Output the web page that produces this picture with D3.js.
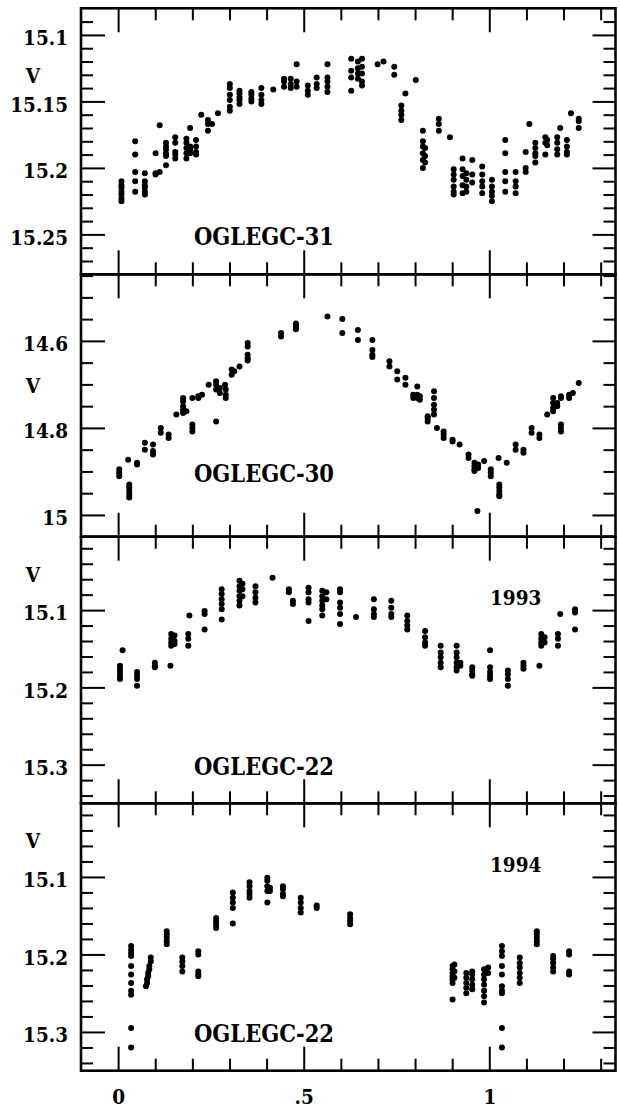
<!DOCTYPE html>
<html>
<head>
<meta charset="utf-8">
<script src="https://cdn.jsdelivr.net/npm/d3@7"></script>
<style>
  html, body { margin: 0; padding: 0; background: #fff; }
  svg text { font-family: "DejaVu Serif Condensed", "DejaVu Serif", serif; font-weight: bold; fill: #000; }
</style>
</head>
<body>
<svg id="chart" width="620" height="1110"></svg>
<script>
// ---------------- DATA (phase, [V magnitudes at that phase]) ----------------
const gc31 = [
  [0.009,[15.210,15.213,15.215,15.218,15.220,15.223,15.225]],
  [0.046,[15.180,15.190,15.203,15.210,15.218]],
  [0.072,[15.204,15.210,15.213,15.215,15.218,15.220]],
  [0.101,[15.189,15.204,15.205]],
  [0.112,[15.168,15.203]],
  [0.129,[15.181,15.184,15.186,15.189,15.191,15.198]],
  [0.154,[15.177,15.181,15.188,15.190,15.193]],
  [0.184,[15.178,15.181,15.185,15.189,15.193]],
  [0.194,[15.170,15.184,15.186,15.189]],
  [0.210,[15.179,15.184,15.188,15.190]],
  [0.224,[15.160]],
  [0.242,[15.164,15.167,15.172]],
  [0.253,[15.167]],
  [0.269,[15.159]],
  [0.301,[15.137,15.140,15.145,15.149,15.154,15.157]],
  [0.327,[15.142,15.144,15.147,15.149,15.152]],
  [0.359,[15.143,15.145,15.148,15.150]],
  [0.386,[15.140,15.145,15.149,15.152]],
  [0.418,[15.141]],
  [0.447,[15.133,15.135,15.139]],
  [0.465,[15.133,15.137,15.140]],
  [0.481,[15.122,15.135,15.139]],
  [0.511,[15.138,15.142,15.145]],
  [0.535,[15.132,15.137,15.140]],
  [0.564,[15.122,15.132,15.135,15.139,15.143]],
  [0.628,[15.118,15.127,15.132,15.142]],
  [0.646,[15.120,15.125,15.129,15.133]],
  [0.657,[15.118,15.124,15.129,15.135,15.138]],
  [0.699,[15.122]],
  [0.715,[15.120]],
  [0.744,[15.124,15.130]],
  [0.763,[15.153,15.157,15.160,15.164]],
  [0.774,[15.144]],
  [0.802,[15.134]],
  [0.821,[15.172,15.180,15.184,15.189,15.194,15.200]],
  [0.827,[15.185,15.191,15.196]],
  [0.864,[15.163,15.167,15.172]],
  [0.894,[15.177]],
  [0.904,[15.201,15.205,15.209,15.214,15.218,15.220]],
  [0.928,[15.193,15.201,15.206,15.213,15.219]],
  [0.938,[15.204,15.209,15.214,15.218]],
  [0.954,[15.194,15.205,15.211]],
  [0.981,[15.199,15.205,15.210,15.214,15.219]],
  [1.007,[15.209,15.214,15.218,15.221,15.225]],
  [1.043,[15.179,15.189,15.203,15.210,15.218]],
  [1.071,[15.203,15.210,15.214,15.219]],
  [1.098,[15.188,15.200,15.203]],
  [1.108,[15.167]],
  [1.124,[15.181,15.185,15.189,15.191,15.196]],
  [1.151,[15.177,15.181,15.190]],
  [1.156,[15.179,15.183]],
  [1.183,[15.177,15.181,15.186,15.190]],
  [1.191,[15.170]],
  [1.209,[15.179,15.184,15.188,15.190]],
  [1.220,[15.159]],
  [1.241,[15.163,15.165,15.170]]
];

const gc30 = [
  [0.003,[14.895,14.903,14.911]],
  [0.027,[14.873]],
  [0.030,[14.930,14.937,14.945,14.953,14.960]],
  [0.051,[14.880,14.884]],
  [0.072,[14.834,14.850]],
  [0.094,[14.838,14.853,14.861]],
  [0.115,[14.800,14.811]],
  [0.136,[14.815,14.823]],
  [0.157,[14.769]],
  [0.175,[14.731,14.739,14.750,14.758,14.766]],
  [0.184,[14.762]],
  [0.200,[14.731,14.792,14.800,14.808]],
  [0.216,[14.727,14.731]],
  [0.226,[14.724]],
  [0.244,[14.701]],
  [0.264,[14.693,14.701,14.712,14.785]],
  [0.274,[14.708,14.720]],
  [0.288,[14.701]],
  [0.290,[14.712,14.724,14.731]],
  [0.306,[14.666,14.678]],
  [0.313,[14.670]],
  [0.327,[14.659]],
  [0.349,[14.605,14.613,14.632,14.640,14.645]],
  [0.439,[14.582,14.590]],
  [0.479,[14.560,14.563,14.567,14.573]],
  [0.564,[14.544]],
  [0.604,[14.550,14.582]],
  [0.646,[14.575,14.598]],
  [0.685,[14.598,14.621,14.632,14.637]],
  [0.731,[14.647,14.659]],
  [0.752,[14.670,14.689]],
  [0.774,[14.685,14.701]],
  [0.795,[14.724,14.731]],
  [0.806,[14.705,14.724,14.731]],
  [0.813,[14.727,14.735]],
  [0.834,[14.773,14.777,14.785]],
  [0.851,[14.716,14.731,14.747,14.758,14.769]],
  [0.859,[14.800]],
  [0.877,[14.808,14.815,14.823]],
  [0.901,[14.827,14.831]],
  [0.920,[14.838]],
  [0.944,[14.861,14.869]],
  [0.960,[14.880,14.888,14.895,14.899]],
  [0.968,[14.991]],
  [0.970,[14.884,14.892]],
  [0.986,[14.876]],
  [1.004,[14.895,14.903,14.911]],
  [1.025,[14.869]],
  [1.027,[14.930,14.937,14.945,14.953,14.957]],
  [1.047,[14.880]],
  [1.071,[14.838,14.850]],
  [1.092,[14.850,14.857]],
  [1.114,[14.800,14.811]],
  [1.135,[14.815,14.823]],
  [1.156,[14.769]],
  [1.172,[14.731,14.743,14.754,14.762]],
  [1.183,[14.743,14.750]],
  [1.193,[14.727,14.731,14.792,14.800,14.808]],
  [1.215,[14.724,14.731]],
  [1.225,[14.720]],
  [1.241,[14.697]]
];

const gc22y1993 = [
  [0.005,[15.172,15.176,15.180,15.185,15.189]],
  [0.012,[15.152]],
  [0.051,[15.180,15.185,15.189,15.198]],
  [0.099,[15.168,15.172,15.174]],
  [0.141,[15.172]],
  [0.143,[15.131,15.137,15.142,15.146]],
  [0.152,[15.133,15.140,15.144]],
  [0.189,[15.131,15.137,15.146]],
  [0.192,[15.107]],
  [0.233,[15.101,15.105,15.125]],
  [0.279,[15.073,15.079,15.086,15.092,15.099,15.112]],
  [0.327,[15.062,15.069,15.075,15.082,15.088,15.094]],
  [0.335,[15.066,15.073,15.082]],
  [0.370,[15.069,15.077,15.084,15.090]],
  [0.416,[15.058]],
  [0.460,[15.073,15.077]],
  [0.471,[15.088,15.092]],
  [0.513,[15.071,15.077,15.086,15.090,15.114]],
  [0.550,[15.075,15.082,15.088,15.094,15.099,15.107]],
  [0.561,[15.077,15.086]],
  [0.598,[15.073,15.077,15.090,15.097,15.105,15.118]],
  [0.641,[15.109]],
  [0.689,[15.086,15.099,15.105,15.109]],
  [0.736,[15.088,15.097,15.105,15.109]],
  [0.779,[15.107,15.114,15.120,15.125]],
  [0.827,[15.127,15.135,15.142,15.146]],
  [0.869,[15.146,15.155,15.161,15.168,15.174]],
  [0.912,[15.146,15.155,15.161,15.168,15.174,15.178]],
  [0.922,[15.168,15.172]],
  [0.954,[15.174,15.178,15.183,15.185]],
  [1.002,[15.152,15.174,15.180,15.185,15.189]],
  [1.050,[15.178,15.183,15.189,15.198]],
  [1.092,[15.168,15.172,15.176]],
  [1.135,[15.172]],
  [1.140,[15.131,15.137,15.142,15.146]],
  [1.149,[15.135,15.142]],
  [1.185,[15.131,15.137,15.146]],
  [1.191,[15.105]],
  [1.231,[15.099,15.103,15.125]]
];

const gc22y1994 = [
  [0.035,[15.189,15.194,15.198,15.202,15.215,15.226,15.237,15.247,15.252,15.295,15.320]],
  [0.088,[15.204,15.209]],
  [0.084,[15.215,15.219]],
  [0.081,[15.224,15.228]],
  [0.078,[15.232,15.237]],
  [0.075,[15.241]],
  [0.131,[15.170,15.174,15.178,15.183,15.187]],
  [0.173,[15.204,15.209,15.215,15.222]],
  [0.216,[15.196,15.200,15.222,15.226,15.228]],
  [0.264,[15.153,15.157,15.161,15.166]],
  [0.309,[15.120,15.127,15.133,15.140,15.160]],
  [0.354,[15.107,15.112,15.118,15.122,15.127]],
  [0.402,[15.101,15.105,15.112,15.118,15.133]],
  [0.409,[15.114,15.118]],
  [0.444,[15.112,15.116,15.122,15.125]],
  [0.492,[15.127,15.133,15.140,15.146]],
  [0.535,[15.137,15.140]],
  [0.625,[15.148,15.153,15.157,15.161]],
  [0.901,[15.215,15.219,15.224,15.228,15.232,15.237,15.258]],
  [0.906,[15.213,15.222,15.230]],
  [0.938,[15.224,15.230,15.237,15.243,15.250]],
  [0.954,[15.222,15.226,15.232,15.239,15.245]],
  [0.986,[15.219,15.226,15.232,15.239,15.247,15.254,15.262]],
  [0.997,[15.217,15.224]],
  [1.034,[15.189,15.196,15.202,15.215,15.226,15.241,15.247,15.250,15.295,15.320]],
  [1.082,[15.204,15.211,15.217,15.224,15.230,15.237]],
  [1.128,[15.170,15.174,15.178,15.183,15.187]],
  [1.172,[15.202,15.206,15.211,15.217,15.222]],
  [1.215,[15.196,15.200,15.222,15.226]]
];

const panelNames = ["OGLEGC-31", "OGLEGC-30", "OGLEGC-22", "OGLEGC-22"];
const panelYears = [null, null, "1993", "1994"];
const yDomains = [[15.08, 15.28], [14.447, 15.05], [15.005, 15.35], [15.005, 15.35]];
const yMajorTicks = [[15.1, 15.15, 15.2, 15.25], [14.6, 14.8, 15.0], [15.1, 15.2, 15.3], [15.1, 15.2, 15.3]];
const yTickLabels = [["15.1", "15.15", "15.2", "15.25"], ["14.6", "14.8", "15"], ["15.1", "15.2", "15.3"], ["15.1", "15.2", "15.3"]];
const yMinorStep = [0.01, 0.05, 0.02, 0.02];
const xDomain = [-0.1, 1.34];
const xMajorTicks = [0, 0.5, 1];
const xTickLabels = ["0", ".5", "1"];
const yAxisTitle = "V";

// ---------------- LAYOUT ----------------
const L = 81, R = 615.5;
const edges = [8.3, 274.3, 536.7, 803.3, 1070.7];
const nameBase = [236.7, 207.4, 238.3, 238.4];   // baseline offsets from panel top
const vBase = [74.7, 118.7, 45.3, 44.7];
const MAJ = 24, MIN = 12;
const FS = 20.5, FS_NAME = 23.5;
const FONT = '"DejaVu Serif Condensed", "DejaVu Serif", serif';

const svg = d3.select("#chart");
const x = d3.scaleLinear().domain(xDomain).range([L, R]);
const round = v => Math.round(v * 1000) / 1000;
const xMinor = d3.range(0, 13.5).map(i => round(i * 0.1)).filter(v => !xMajorTicks.includes(v));

const datasets = [gc31, gc30, gc22y1993, gc22y1994];

datasets.forEach((data, i) => {
  const top = edges[i], bot = edges[i + 1];
  const y = d3.scaleLinear().domain(yDomains[i]).range([top, bot]);
  const g = svg.append("g");

  const d0 = yDomains[i][0], d1 = yDomains[i][1], st = yMinorStep[i];
  const yMinor = d3.range(Math.ceil(d0 / st - 1e-6), Math.floor(d1 / st + 1e-6) + 1)
    .map(k => round(k * st)).filter(v => !yMajorTicks[i].some(m => Math.abs(m - v) < 1e-6) && v > d0 && v < d1);

  const axisStyle = sel => {
    sel.select(".domain").remove();
    sel.selectAll("line").attr("stroke", "#000").attr("stroke-width", 2);
  };

  g.append("g").attr("transform", `translate(${L},0)`)
    .call(d3.axisLeft(y).tickValues(yMinor).tickSize(-MIN).tickFormat(""))
    .call(axisStyle);
  g.append("g").attr("transform", `translate(${R},0)`)
    .call(d3.axisRight(y).tickValues(yMinor).tickSize(-MIN).tickFormat(""))
    .call(axisStyle);
  g.append("g").attr("transform", `translate(${R},0)`)
    .call(d3.axisRight(y).tickValues(yMajorTicks[i]).tickSize(-MAJ + 1).tickFormat(""))
    .call(axisStyle);
  const yl = g.append("g").attr("transform", `translate(${L},0)`)
    .call(d3.axisLeft(y).tickValues(yMajorTicks[i]).tickSize(-MAJ).tickPadding(13)
      .tickFormat((d, k) => yTickLabels[i][k]))
    .call(axisStyle);
  yl.selectAll("text").attr("font-size", FS).attr("dy", "0.47em")
    .style("font-family", FONT).style("font-weight", "bold");

  [[d3.axisTop, top], [d3.axisBottom, bot]].forEach(([ax, yy]) => {
    g.append("g").attr("transform", `translate(0,${yy})`)
      .call(ax(x).tickValues(xMinor).tickSize(-MIN).tickFormat(""))
      .call(axisStyle);
    const isBottomLabel = (ax === d3.axisBottom && i === 3);
    const a = g.append("g").attr("transform", `translate(0,${yy})`)
      .call(ax(x).tickValues(xMajorTicks).tickSize(-MAJ).tickPadding(19)
        .tickFormat(isBottomLabel ? ((d, k) => xTickLabels[k]) : ""))
      .call(axisStyle);
    a.selectAll("text").attr("font-size", FS)
      .style("font-family", FONT).style("font-weight", "bold");
  });

  g.append("rect").attr("x", L).attr("y", top).attr("width", R - L).attr("height", bot - top)
    .attr("fill", "none").attr("stroke", "#000").attr("stroke-width", 2.6);

  const pts = data.flatMap(([p, ms]) => ms.map(m => [p, m]));
  g.append("g").selectAll("circle").data(pts).join("circle")
    .attr("cx", d => x(d[0])).attr("cy", d => y(d[1])).attr("r", 3).attr("fill", "#000");

  g.append("text").attr("x", 33).attr("y", top + vBase[i]).attr("text-anchor", "middle")
    .attr("font-size", FS).text(yAxisTitle);
  g.append("text").attr("x", 194).attr("y", top + nameBase[i]).attr("font-size", FS_NAME)
    .attr("textLength", 140).attr("lengthAdjust", "spacingAndGlyphs")
    .text(panelNames[i]);
  if (panelYears[i]) {
    g.append("text").attr("x", 490).attr("y", top + 68.3).attr("font-size", FS).text(panelYears[i]);
  }
});
</script>
</body>
</html>
